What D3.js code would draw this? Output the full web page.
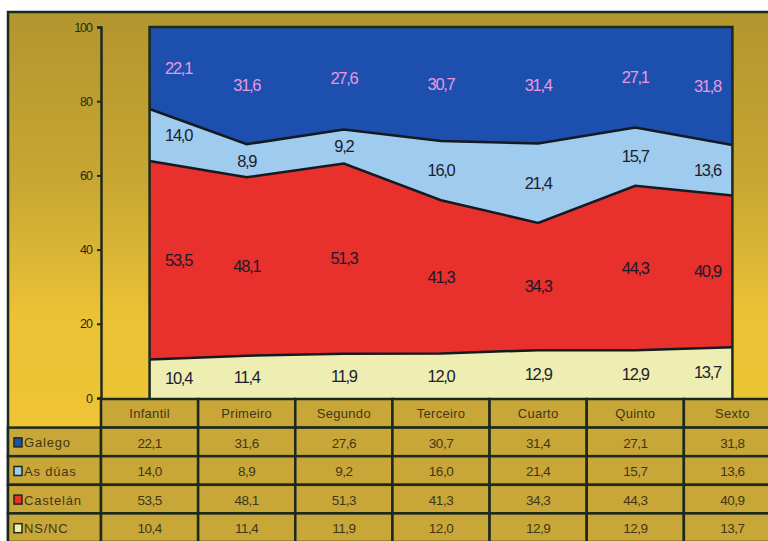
<!DOCTYPE html>
<html lang="gl">
<head>
<meta charset="UTF-8">
<title>Lingua</title>
<style>
  body { margin: 0; background: #fff; }
  svg { display: block; }
  text { font-family: "Liberation Sans", Arial, sans-serif; }
</style>
</head>
<body>
<script src="https://d3js.org/d3.v7.min.js"></script>
<script>
const categories = ["Infantil", "Primeiro", "Segundo", "Terceiro", "Cuarto", "Quinto", "Sexto"];
const galego   = [22.1, 31.6, 27.6, 30.7, 31.4, 27.1, 31.8];
const asDuas   = [14.0, 8.9, 9.2, 16.0, 21.4, 15.7, 13.6];
const castelan = [53.5, 48.1, 51.3, 41.3, 34.3, 44.3, 40.9];
const nsnc     = [10.4, 11.4, 11.9, 12.0, 12.9, 12.9, 13.7];
const yTicks = [0, 20, 40, 60, 80, 100];

// stack order bottom -> top
const series = [
  { key: "NS/NC", values: nsnc, color: "#eeeeb2", label: "#1a2030" },
  { key: "Castelán", values: castelan, color: "#e8302c", label: "#1a1a2a" },
  { key: "As dúas", values: asDuas, color: "#9fcbee", label: "#1a2030" },
  { key: "Galego", values: galego, color: "#1c4fae", label: "#ec98e0" }
];
// table row order
const tableRows = ["Galego", "As dúas", "Castelán", "NS/NC"];

const width = 768, height = 541;
const dark = "#1b2a1e";
const fmt = v => d3.format(".1f")(v).replace(".", ",");

const rows = categories.map((c, i) => {
  const r = { cat: c };
  series.forEach(s => r[s.key] = s.values[i]);
  return r;
});
const stacked = d3.stack().keys(series.map(s => s.key))(rows);

const svg = d3.select("body").append("svg")
  .attr("width", width).attr("height", height);

const defs = svg.append("defs");
const grad = defs.append("linearGradient").attr("id", "bg")
  .attr("x1", 0).attr("y1", 0).attr("x2", 0).attr("y2", 1);
grad.append("stop").attr("offset", "0%").attr("stop-color", "#b3952f");
grad.append("stop").attr("offset", "30%").attr("stop-color", "#c8a632");
grad.append("stop").attr("offset", "55%").attr("stop-color", "#ecc236");
grad.append("stop").attr("offset", "100%").attr("stop-color", "#f2c838");

// frame
svg.append("rect")
  .attr("x", 8).attr("y", 12).attr("width", 800).attr("height", 560)
  .attr("fill", "url(#bg)").attr("stroke", dark).attr("stroke-width", 2.5);

const x = d3.scaleBand().domain(categories).range([101, 781]).padding(0);
const cx = c => x(c) + x.bandwidth() / 2;
const y = d3.scaleLinear().domain([0, 100]).range([398, 27]);

// stacked areas
const area = d3.area()
  .x(d => cx(d.data.cat))
  .y0(d => y(d[0]))
  .y1(d => y(d[1]));

svg.append("g").selectAll("path")
  .data(stacked)
  .join("path")
  .attr("d", area)
  .attr("fill", (d, i) => series[i].color);

// boundary lines
const line = d3.line().x(d => cx(d.data.cat)).y(d => y(d[1]));
svg.append("g").selectAll("path")
  .data(stacked.slice(0, 3))
  .join("path")
  .attr("d", line)
  .attr("fill", "none")
  .attr("stroke", "#151a20")
  .attr("stroke-width", 2.5);

// plot border
const x0 = cx(categories[0]), x1 = cx(categories[categories.length - 1]);
svg.append("path")
  .attr("d", `M${x0},${y(0)}V${y(100)}H${x1}V${y(0)}`)
  .attr("fill", "none").attr("stroke", dark).attr("stroke-width", 2.5);

// data labels
const last = categories.length - 1;
stacked.forEach((layer, si) => {
  svg.append("g").selectAll("text")
    .data(layer)
    .join("text")
    .attr("x", (d, i) => cx(d.data.cat) + (i === 0 ? 29 : i === last ? -25 : 0))
    .attr("y", d => y((d[0] + d[1]) / 2))
    .attr("dy", "0.35em")
    .attr("text-anchor", "middle")
    .attr("font-size", 16.5)
    .attr("letter-spacing", -1.3)
    .attr("fill", series[si].label)
    .text(d => fmt(d.data[layer.key]));
});

// y axis
const yAxis = svg.append("g")
  .attr("transform", "translate(101,0)")
  .call(d3.axisLeft(y).tickValues(yTicks).tickSize(4).tickPadding(5));
yAxis.select(".domain").attr("stroke", dark).attr("stroke-width", 2.5);
yAxis.selectAll(".tick line").attr("stroke", dark).attr("stroke-width", 2);
yAxis.selectAll(".tick text").attr("fill", "#2a2a1a").attr("font-size", 12.5)
  .attr("letter-spacing", -1);

// data table
const rowY = d3.scaleBand().domain(["header"].concat(tableRows)).range([399, 542]);
const tbl = svg.append("g");
const cellFill = "#c9a638";
const cellText = "#3f3818";

// header cells
tbl.selectAll("rect.h")
  .data(categories)
  .join("rect")
  .attr("x", d => x(d)).attr("y", rowY("header"))
  .attr("width", x.bandwidth()).attr("height", rowY.bandwidth())
  .attr("fill", cellFill).attr("stroke", dark).attr("stroke-width", 2.5);
tbl.selectAll("text.h")
  .data(categories)
  .join("text")
  .attr("x", d => cx(d)).attr("y", rowY("header") + rowY.bandwidth() / 2)
  .attr("dy", "0.35em").attr("text-anchor", "middle")
  .attr("font-size", 13).attr("letter-spacing", 0.3).attr("fill", cellText)
  .text(d => d);

// body rows
tableRows.forEach(key => {
  const s = series.find(t => t.key === key);
  const ry = rowY(key);
  tbl.append("rect")
    .attr("x", 8).attr("y", ry).attr("width", 93).attr("height", rowY.bandwidth())
    .attr("fill", cellFill).attr("stroke", dark).attr("stroke-width", 2.5);
  tbl.append("rect")
    .attr("x", 14).attr("y", ry + rowY.bandwidth() / 2 - 4)
    .attr("width", 8).attr("height", 9)
    .attr("fill", s.color).attr("stroke", dark).attr("stroke-width", 1.5);
  tbl.append("text")
    .attr("x", 24).attr("y", ry + rowY.bandwidth() / 2 + 1)
    .attr("dy", "0.35em").attr("font-size", 13).attr("letter-spacing", 0.8)
    .attr("fill", cellText)
    .text(key);
  tbl.selectAll(null)
    .data(categories)
    .join("rect")
    .attr("x", d => x(d)).attr("y", ry)
    .attr("width", x.bandwidth()).attr("height", rowY.bandwidth())
    .attr("fill", cellFill).attr("stroke", dark).attr("stroke-width", 2.5);
  tbl.selectAll(null)
    .data(categories)
    .join("text")
    .attr("x", d => cx(d)).attr("y", ry + rowY.bandwidth() / 2 + 1)
    .attr("dy", "0.35em").attr("text-anchor", "middle")
    .attr("font-size", 13.5).attr("letter-spacing", -0.5).attr("fill", cellText)
    .text((d, i) => fmt(s.values[i]));
});
</script>
</body>
</html>
